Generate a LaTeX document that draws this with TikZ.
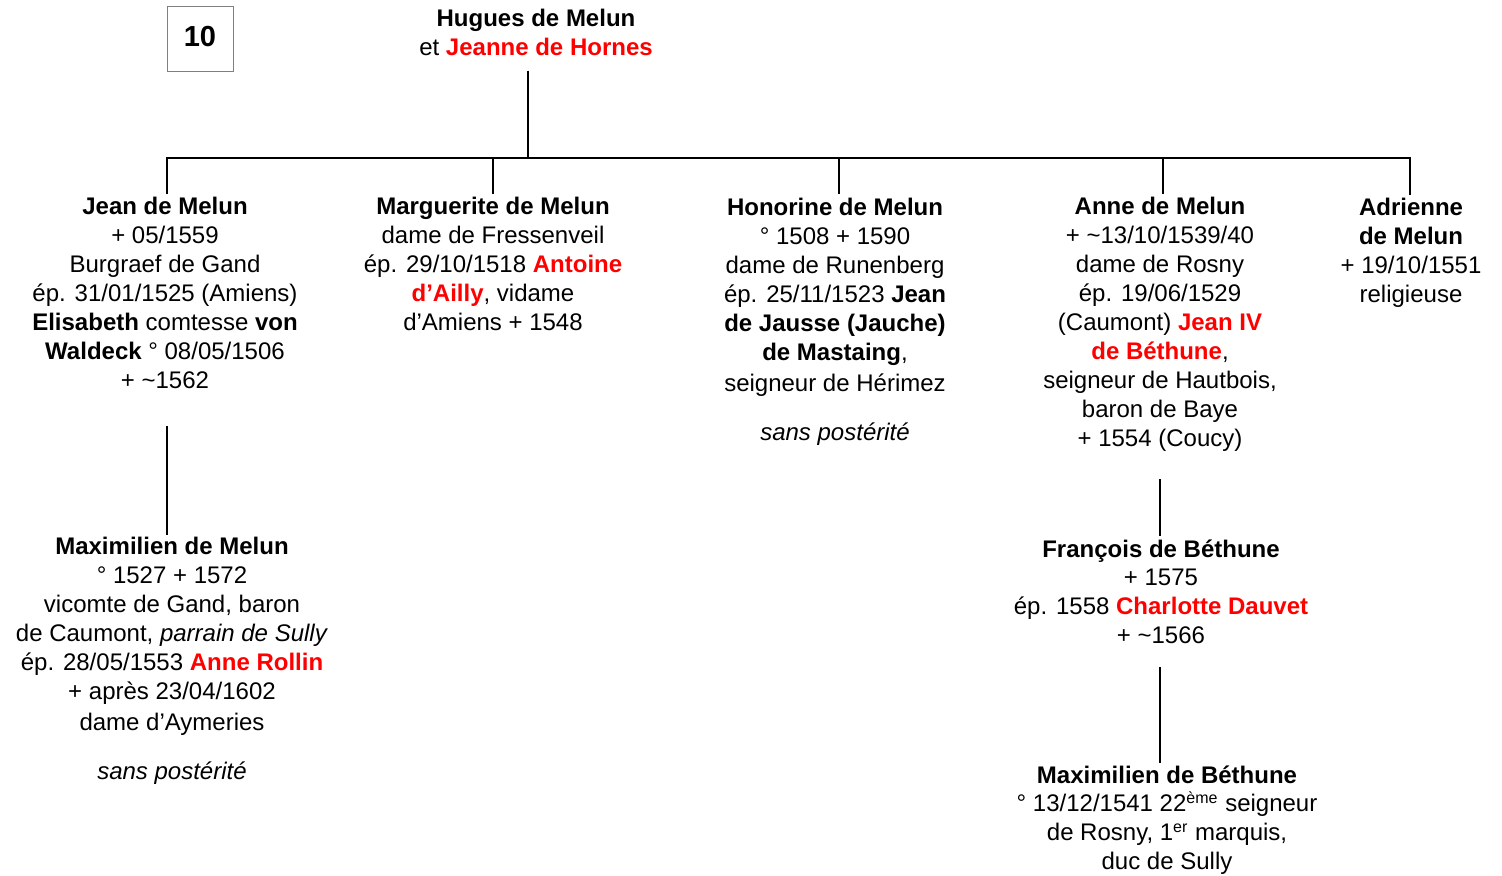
\documentclass[tikz,border=0pt]{standalone}
\usepackage{fontspec}
\setmainfont{Liberation Sans}
\definecolor{redname}{RGB}{255,0,0}
\definecolor{boxgray}{RGB}{128,128,128}
\newcommand{\rb}[1]{\textcolor{redname}{\textbf{#1}}}
\begin{document}
\begin{tikzpicture}[x=0.5pt,y=-0.5pt,
  person/.style={anchor=north,inner sep=0pt,align=center,
    font=\fontsize{12}{14.45}\selectfont},
  link/.style={line width=1pt,black},
  numbox/.style={draw=boxgray,line width=0.5pt,minimum width=33pt,minimum height=32.5pt,
    inner sep=0pt,font=\fontsize{14.5}{16}\selectfont\bfseries}]
\useasboundingbox (0,0) rectangle (1502,875);
\fill[white] (0,0) rectangle (1502,875);

\node[numbox] (num) at (200,38.5) {\raisebox{2.2pt}{10}};

\node[person] (hugues) at (536,9) {\textbf{Hugues de Melun}\\et \rb{Jeanne de Hornes}};

\node[person] (jean) at (165,197) {\textbf{Jean de Melun}\\
+ 05/1559\\
Burgraef de Gand\\
ép. 31/01/1525 (Amiens)\\
\textbf{Elisabeth} comtesse \textbf{von}\\
\textbf{Waldeck} ° 08/05/1506\\
+ \textasciitilde1562};

\node[person] (marg) at (493,197) {\textbf{Marguerite de Melun}\\
dame de Fressenveil\\
ép. 29/10/1518 \rb{Antoine}\\
\rb{d’Ailly}, vidame\\
d’Amiens + 1548};

\node[person] (hono) at (835,198) {\textbf{Honorine de Melun}\\
° 1508 + 1590\\
dame de Runenberg\\
ép. 25/11/1523 \textbf{Jean}\\
\textbf{de Jausse (Jauche)}\\
\textbf{de Mastaing},\\[1pt]
seigneur de Hérimez\\[10pt]
\textit{sans postérité}};

\node[person] (anne) at (1160,197) {\textbf{Anne de Melun}\\
+ \textasciitilde13/10/1539/40\\
dame de Rosny\\
ép. 19/06/1529\\
(Caumont) \rb{Jean IV}\\
\rb{de Béthune},\\
seigneur de Hautbois,\\
baron de Baye\\
+ 1554 (Coucy)};

\node[person] (adri) at (1411,198) {\textbf{Adrienne}\\
\textbf{de Melun}\\
+ 19/10/1551\\
religieuse};

\node[person] (maxm) at (172,537) {\textbf{Maximilien de Melun}\\
° 1527 + 1572\\
vicomte de Gand, baron\\
de Caumont, \textit{parrain de Sully}\\
ép. 28/05/1553 \rb{Anne Rollin}\\
+ après 23/04/1602\\[1pt]
dame d’Aymeries\\[10pt]
\textit{sans postérité}};

\node[person] (fran) at (1161,539) {\textbf{François de Béthune}\\
+ 1575\\
ép. 1558 \rb{Charlotte Dauvet}\\
+ \textasciitilde1566};

\node[person] (maxb) at (1167,765) {\textbf{Maximilien de Béthune}\\
° 13/12/1541 22\textsuperscript{ème} seigneur\\
de Rosny, 1\textsuperscript{er} marquis,\\
duc de Sully};

% connector points
\coordinate (hugB) at (528,70.5);
\coordinate (busM) at (528,158.3);
\coordinate (busL) at (167,158.3);
\coordinate (busR) at (1410,158.3);
\coordinate (jeanT) at (167,194);
\coordinate (margB) at (493.3,158.3);
\coordinate (margT) at (493.3,194);
\coordinate (honoB) at (839,158.3);
\coordinate (honoT) at (839,194);
\coordinate (anneB) at (1163,158.3);
\coordinate (anneT) at (1163,194);
\coordinate (adriT) at (1410,195);
\coordinate (jeanB) at (167.3,426);
\coordinate (maxmT) at (167.3,535);
\coordinate (anneD) at (1159.7,479);
\coordinate (franT) at (1159.7,536);
\coordinate (franD) at (1159.7,667);
\coordinate (maxbT) at (1159.7,762.5);

\draw[link] (hugB) -- (busM);
\draw[link] (jeanT) -- (busL) -- (busR) -- (adriT);
\draw[link] (margB) -- (margT);
\draw[link] (honoB) -- (honoT);
\draw[link] (anneB) -- (anneT);
\draw[link] (jeanB) -- (maxmT);
\draw[link] (anneD) -- (franT);
\draw[link] (franD) -- (maxbT);
\end{tikzpicture}
\end{document}
